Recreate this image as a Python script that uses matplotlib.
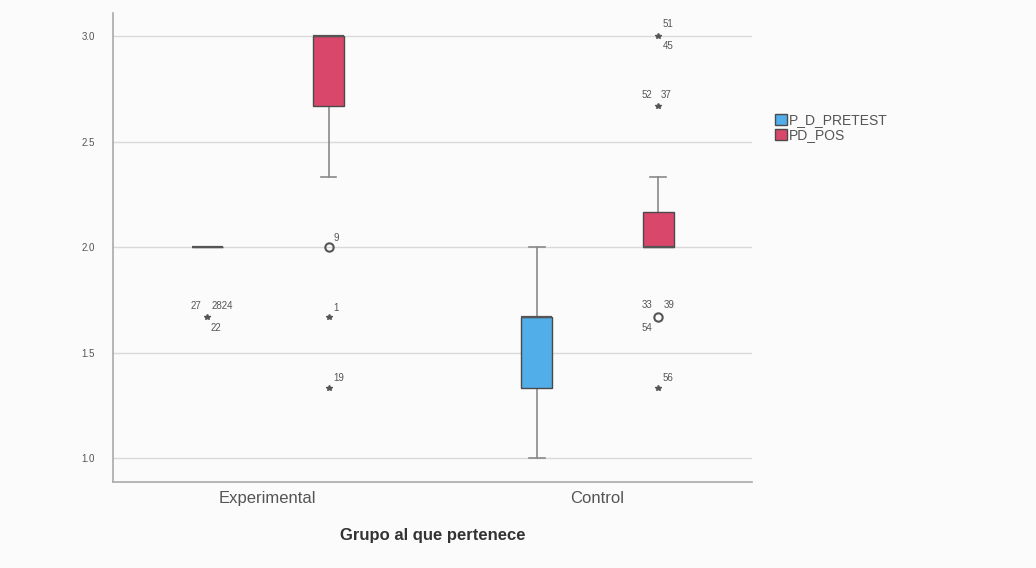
import matplotlib.pyplot as plt
from matplotlib.patches import Patch

plt.rcParams['font.family'] = ['Liberation Sans', 'DejaVu Sans']

# box summaries
groups = ['Experimental', 'Control']
series = ['P_D_PRETEST', 'PD_POS']
colors = ['#52aee8', '#d9486b']

# one row per box: experimental pre, experimental post, control pre, control post
q1 = [2.0, 2.667, 1.333, 2.0]
med = [2.0, 3.0, 1.667, 2.0]
q3 = [2.0, 3.0, 1.667, 2.167]
whis_lo = [2.0, 2.333, 1.0, 2.0]
whis_hi = [2.0, 3.0, 2.0, 2.333]

# outliers: box index, value, marker kind, case labels
out_box = [0, 1, 1, 1, 3, 3, 3, 3]
out_val = [1.667, 2.0, 1.667, 1.333, 3.0, 2.667, 1.667, 1.333]
out_kind = ['*', 'o', '*', '*', '*', '*', 'o', '*']
out_labels = [['27', '2824', '22'], ['9'], ['1'], ['19'],
              ['51', '45'], ['52', '37'], ['33', '39', '54'], ['56']]
# label offsets in pixels, same order as out_labels
label_offsets = [[(-11, 11), (15, 11), (9, -11)], [(8, 9)], [(7, 9)], [(10, 10)],
                 [(10, 12), (10, -10)], [(-11, 11), (8, 11)],
                 [(-11, 12), (11, 12), (-11, -11)], [(10, 10)]]

offset = 0.184
positions = []
for g in range(len(groups)):
    for s in range(len(series)):
        positions.append(g + (s * 2 - 1) * offset)

fig = plt.figure(figsize=(10.36, 5.68), dpi=100, facecolor='#fbfbfb')
ax = fig.add_axes([0.109, 0.151, 0.617, 0.826])
ax.set_facecolor('#fbfbfb')

stats = []
for i in range(len(positions)):
    stats.append({'med': med[i], 'q1': q1[i], 'q3': q3[i],
                  'whislo': whis_lo[i], 'whishi': whis_hi[i], 'fliers': []})

bp = ax.bxp(stats, positions=positions, widths=0.094, capwidths=0.047,
            patch_artist=True, showfliers=False, manage_ticks=False,
            boxprops=dict(edgecolor='#4a4a4a', linewidth=1),
            whiskerprops=dict(color='#8a8a8a', linewidth=1.2),
            capprops=dict(color='#8a8a8a', linewidth=1.2),
            medianprops=dict(color='#555555', linewidth=1.6))
for i, box in enumerate(bp['boxes']):
    box.set_facecolor(colors[i % 2])
    box.set_zorder(3)
for m in bp['medians']:
    m.set_zorder(4)

for i in range(len(out_box)):
    x = positions[out_box[i]]
    if out_kind[i] == 'o':
        ax.plot(x, out_val[i], 'o', ms=6, mfc='none', mec='#555555', mew=1.5, zorder=5)
    else:
        ax.plot(x, out_val[i], '*', ms=4, color='#555555', zorder=5)
    for lab, off in zip(out_labels[i], label_offsets[i]):
        ax.annotate(lab, (x, out_val[i]), xytext=off, textcoords='offset pixels',
                    ha='center', va='center', fontsize=7, color='#555555')

ax.set_xlim(-0.47, 1.469)
ax.set_ylim(0.886, 3.109)
ax.set_yticks([1.0, 1.5, 2.0, 2.5, 3.0])
ax.set_yticklabels(['1.0', '1.5', '2.0', '2.5', '3.0'], fontsize=7, color='#555555')
ax.set_xticks([0, 1])
ax.set_xticklabels(groups, fontsize=12, color='#555555')
ax.tick_params(length=0)
ax.tick_params(axis='y', pad=13)
ax.tick_params(axis='x', pad=6)
ax.yaxis.grid(True, color='#d9d9d9', linewidth=1)
ax.set_axisbelow(True)
for side in ['top', 'right']:
    ax.spines[side].set_visible(False)
for side in ['left', 'bottom']:
    ax.spines[side].set_color('#aaaaaa')
    ax.spines[side].set_linewidth(1.2)
ax.set_xlabel('Grupo al que pertenece', fontsize=12, fontweight='bold', color='#333333', labelpad=16)

handles = [Patch(facecolor=colors[i], edgecolor='#4a4a4a', label=series[i]) for i in range(len(series))]
fig.legend(handles=handles, loc='upper left', bbox_to_anchor=(0.743, 0.81), frameon=False,
           fontsize=10, handlelength=0.85, handleheight=0.9, handletextpad=0.15,
           labelspacing=0.05, labelcolor='#555555', borderaxespad=0)

fig.savefig('out.png', dpi=100, facecolor=fig.get_facecolor())
